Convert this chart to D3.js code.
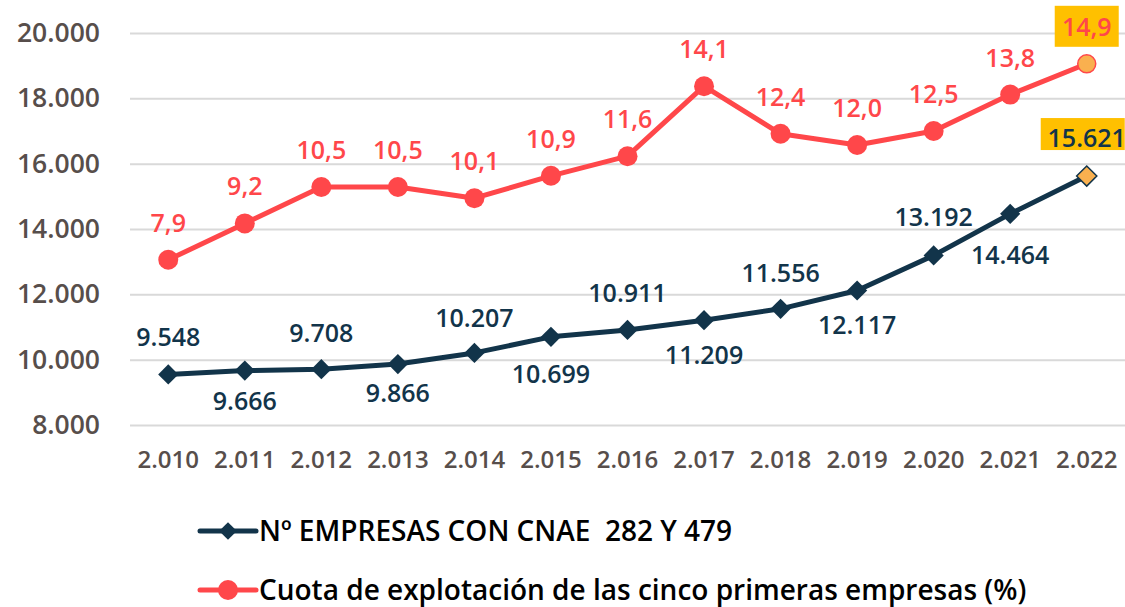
<!DOCTYPE html>
<html>
<head>
<meta charset="utf-8">
<script src="https://cdn.jsdelivr.net/npm/d3@7"></script>
<style>
  body { margin: 0; background: #fff; }
  text { font-family: "Open Sans", sans-serif; }
</style>
</head>
<body>
<div id="chart"></div>
<script>
'use strict';

// data
const years = ['2.010','2.011','2.012','2.013','2.014','2.015','2.016','2.017','2.018','2.019','2.020','2.021','2.022'];
const empresas = [9548, 9666, 9708, 9866, 10207, 10699, 10911, 11209, 11556, 12117, 13192, 14464, 15621];
const cuota = [7.9, 9.2, 10.5, 10.5, 10.1, 10.9, 11.6, 14.1, 12.4, 12.0, 12.5, 13.8, 14.9];
const y_ticks = [8000, 10000, 12000, 14000, 16000, 18000, 20000];
const legend_labels = ['Nº EMPRESAS CON CNAE  282 Y 479', 'Cuota de explotación de las cinco primeras empresas (%)'];

// layout
const dims = { width: 1125, height: 607, left: 130, right: 1125, top: 33, bottom: 425 };
// vertical offset of the dark labels (above / below the point, as placed in the original)
const dark_label_dy = [-28, 39, -27, 38, -26, 46, -28, 44, -27, 43, -29, 50, -29];

const dark = '#12344a';
const red = '#ff474a';
const gray = '#574e4b';
const hilite = '#ffc000';
const last_fill = '#f9b04f';

const svg = d3.select('#chart').append('svg')
  .attr('width', dims.width)
  .attr('height', dims.height);

// scales
const x_scale = d3.scaleBand()
  .domain(years)
  .range([dims.left, dims.right]);

const y_scale = d3.scaleLinear()
  .domain([8000, 20000])
  .range([dims.bottom, dims.top]);

// hidden secondary axis for the percentage
const y2_scale = d3.scaleLinear()
  .domain([2, 16])
  .range([dims.bottom, dims.top]);

const xc = d => x_scale(d) + x_scale.bandwidth() / 2;
const fmt = d3.formatLocale({ decimal: ',', thousands: '.', grouping: [3], currency: ['', ''] });
const fmt_int = fmt.format(',d');
const fmt_dec = fmt.format('.1f');

// gridlines + y axis
const yAxis = d3.axisLeft(y_scale)
  .tickValues(y_ticks)
  .tickSize(-(dims.right - dims.left))
  .tickPadding(30)
  .tickFormat(fmt_int);

svg.append('g')
  .attr('transform', `translate(${dims.left},0)`)
  .call(yAxis)
  .call(g => g.select('.domain').remove())
  .call(g => g.selectAll('line').attr('stroke', '#d9d9d9').attr('stroke-width', 2))
  .call(g => g.selectAll('text')
    .attr('fill', gray)
    .style('font-size', '26.5px')
    .style('font-weight', 600));

// x axis
const xAxis = d3.axisBottom(x_scale).tickSize(0).tickPadding(26);
svg.append('g')
  .attr('transform', `translate(0,${dims.bottom})`)
  .call(xAxis)
  .call(g => g.select('.domain').remove())
  .call(g => g.selectAll('text')
    .attr('fill', gray)
    .style('font-size', '24px')
    .style('font-weight', 600));

const n = years.length;

// red line
const red_line = d3.line()
  .x((d, i) => xc(years[i]))
  .y(d => y2_scale(d));

svg.append('path')
  .datum(cuota)
  .attr('fill', 'none')
  .attr('stroke', red)
  .attr('stroke-width', 5)
  .attr('stroke-linejoin', 'round')
  .attr('d', red_line);

svg.append('g')
  .selectAll('circle')
  .data(cuota)
  .join('circle')
  .attr('cx', (d, i) => xc(years[i]))
  .attr('cy', d => y2_scale(d))
  .attr('r', (d, i) => i === n - 1 ? 9 : 10)
  .attr('fill', (d, i) => i === n - 1 ? last_fill : red)
  .attr('stroke', (d, i) => i === n - 1 ? red : 'none')
  .attr('stroke-width', 1.5);

// dark line
const dark_line = d3.line()
  .x((d, i) => xc(years[i]))
  .y(d => y_scale(d));

svg.append('path')
  .datum(empresas)
  .attr('fill', 'none')
  .attr('stroke', dark)
  .attr('stroke-width', 5)
  .attr('stroke-linejoin', 'round')
  .attr('d', dark_line);

const diamond = d3.symbol().type(d3.symbolDiamond2).size(260);
svg.append('g')
  .selectAll('path')
  .data(empresas)
  .join('path')
  .attr('d', diamond)
  .attr('transform', (d, i) => `translate(${xc(years[i])},${y_scale(d)})`)
  .attr('fill', (d, i) => i === n - 1 ? last_fill : dark)
  .attr('stroke', dark)
  .attr('stroke-width', (d, i) => i === n - 1 ? 1.5 : 0);

// highlight boxes for the last labels
const last_x = xc(years[n - 1]);
svg.append('rect')
  .attr('x', last_x - 32)
  .attr('y', y2_scale(cuota[n - 1]) - 58)
  .attr('width', 64)
  .attr('height', 41)
  .attr('fill', hilite);
svg.append('rect')
  .attr('x', last_x - 46)
  .attr('y', y_scale(empresas[n - 1]) - 58)
  .attr('width', 84)
  .attr('height', 32)
  .attr('fill', hilite);

// red labels
svg.append('g')
  .selectAll('text')
  .data(cuota)
  .join('text')
  .attr('x', (d, i) => xc(years[i]))
  .attr('y', d => y2_scale(d) - 28)
  .attr('text-anchor', 'middle')
  .attr('fill', red)
  .style('font-size', '25px')
  .style('font-weight', 600)
  .text(d => fmt_dec(d));

// dark labels, alternating above/below
svg.append('g')
  .selectAll('text')
  .data(empresas)
  .join('text')
  .attr('x', (d, i) => xc(years[i]))
  .attr('y', (d, i) => y_scale(d) + dark_label_dy[i])
  .attr('text-anchor', 'middle')
  .attr('fill', dark)
  .style('font-size', '25px')
  .style('font-weight', 600)
  .text(d => fmt_int(d));

// legend
const legend = svg.append('g')
  .selectAll('g')
  .data(legend_labels)
  .join('g')
  .attr('transform', (d, i) => `translate(0,${531 + i * 59})`);

legend.append('line')
  .attr('x1', 200).attr('x2', 256)
  .attr('stroke', (d, i) => i === 0 ? dark : red)
  .attr('stroke-width', 5)
  .attr('stroke-linecap', 'round');

legend.filter((d, i) => i === 0).append('path')
  .attr('d', d3.symbol().type(d3.symbolDiamond2).size(200))
  .attr('transform', 'translate(228,0)')
  .attr('fill', dark);

legend.filter((d, i) => i === 1).append('circle')
  .attr('cx', 228)
  .attr('r', 10)
  .attr('fill', red);

legend.append('text')
  .attr('x', 259)
  .attr('dy', '0.35em')
  .attr('fill', '#000')
  .style('font-size', '28px')
  .style('font-weight', 600)
  .style('white-space', 'pre')
  .text(d => d);
</script>
</body>
</html>
